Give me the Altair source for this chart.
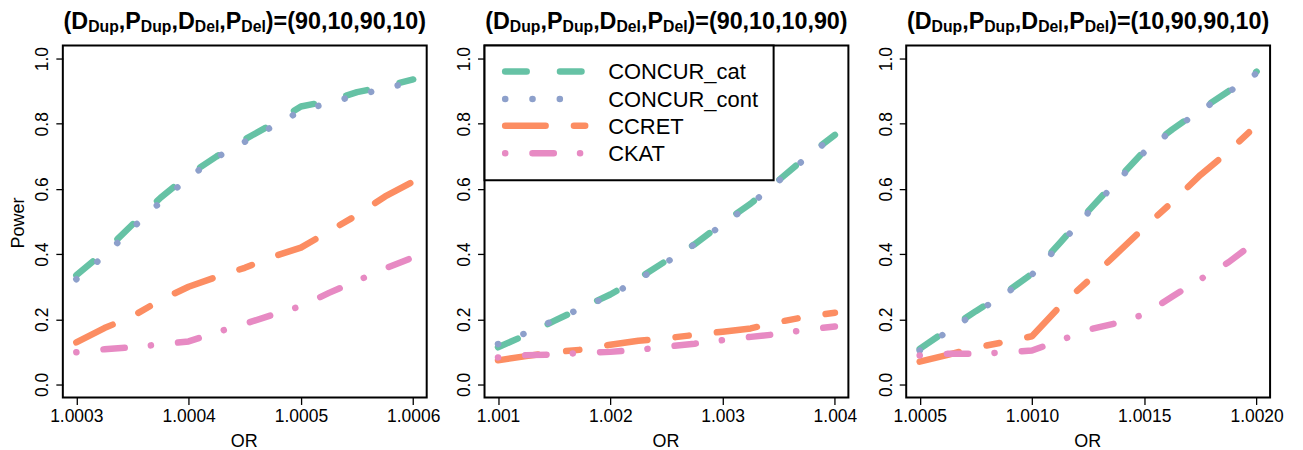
import altair as alt
import pandas as pd

# ---------------- data ----------------
SERIES = ["CONCUR_cat", "CONCUR_cont", "CCRET", "CKAT"]
COLORS = ["#66C2A5", "#8DA0CB", "#FC8D62", "#E78AC3"]
DASHES = [[21.6, 33.4], [0.1, 27.3], [40.6, 28.4, 13.3, 28.4], [0.1, 27.3, 21.4, 26.3]]

P1_OR = [1.0003, 1.000325, 1.00035, 1.000375, 1.0004, 1.000425, 1.00045,
         1.000475, 1.0005, 1.000525, 1.00055, 1.000575, 1.0006]
P1_CAT = [0.335, 0.407, 0.491, 0.573, 0.643, 0.700, 0.752, 0.800, 0.853, 0.870, 0.897, 0.915, 0.936]
P1_CONT = [0.323, 0.395, 0.480, 0.560, 0.635, 0.697, 0.745, 0.792, 0.840, 0.864, 0.888, 0.908, 0.930]
P1_CCRET = [0.129, 0.173, 0.209, 0.259, 0.300, 0.330, 0.358, 0.392, 0.420, 0.470, 0.520, 0.577, 0.623]
P1_CKAT = [0.099, 0.108, 0.114, 0.123, 0.132, 0.160, 0.186, 0.214, 0.240, 0.281, 0.318, 0.356, 0.390]

P2_OR = [1.001, 1.00125, 1.0015, 1.00175, 1.002, 1.00225, 1.0025,
         1.00275, 1.003, 1.00325, 1.0035, 1.00375, 1.004]
P2_CAT = [0.114, 0.152, 0.195, 0.236, 0.276, 0.325, 0.380, 0.430, 0.495, 0.555, 0.627, 0.700, 0.766]
P2_CONT = [0.124, 0.158, 0.197, 0.235, 0.273, 0.322, 0.375, 0.430, 0.490, 0.553, 0.625, 0.697, 0.765]
P2_CCRET = [0.074, 0.087, 0.099, 0.107, 0.122, 0.134, 0.142, 0.152, 0.162, 0.172, 0.192, 0.208, 0.220]
P2_CKAT = [0.083, 0.090, 0.092, 0.097, 0.100, 0.106, 0.116, 0.125, 0.136, 0.146, 0.155, 0.168, 0.178]

P3_OR = [1.0005, 1.000625, 1.00075, 1.000875, 1.001, 1.001125, 1.00125,
         1.001375, 1.0015, 1.001625, 1.00175, 1.001875, 1.002]
P3_CAT = [0.109, 0.168, 0.225, 0.278, 0.340, 0.435, 0.532, 0.625, 0.717, 0.783, 0.843, 0.900, 0.960]
P3_CONT = [0.104, 0.163, 0.220, 0.275, 0.337, 0.430, 0.527, 0.620, 0.713, 0.780, 0.840, 0.897, 0.955]
P3_CCRET = [0.070, 0.091, 0.113, 0.130, 0.148, 0.240, 0.318, 0.400, 0.482, 0.560, 0.643, 0.715, 0.796]
P3_CKAT = [0.089, 0.094, 0.094, 0.098, 0.104, 0.135, 0.168, 0.188, 0.215, 0.270, 0.323, 0.375, 0.440]

P1_TICKS = [1.0003, 1.0004, 1.0005, 1.0006]
P2_TICKS = [1.001, 1.002, 1.003, 1.004]
P3_TICKS = [1.0005, 1.0010, 1.0015, 1.0020]
Y_TICKS = [0.0, 0.2, 0.4, 0.6, 0.8, 1.0]

TITLE_VALUES = ["90,10,90,10", "90,10,10,90", "10,90,90,10"]

# ---------------- layout constants ----------------
W, H = 365, 353
FONT = "Liberation Sans"
LW = 6.5

# Arial/Liberation Sans Bold advance widths (per 1000 em) for title layout
BOLD_W = {"(": 333, ")": 333, ",": 278, "=": 584, "D": 722, "P": 667,
          "u": 611, "p": 611, "e": 556, "l": 278}
for d in "0123456789":
    BOLD_W[d] = 556


def text_width(s, size):
    return sum(BOLD_W[c] for c in s) * size / 1000.0


def title_layers(values):
    big, small = 23.4, 15.8
    segs = [("(D", 0), ("Dup", 1), (",P", 0), ("Dup", 1), (",D", 0), ("Del", 1),
            (",P", 0), ("Del", 1), (")=(" + values + ")", 0)]
    total = sum(text_width(s, small if sub else big) for s, sub in segs)
    x = W / 2.0 - total / 2.0
    out = []
    for s, sub in segs:
        size = small if sub else big
        out.append(
            alt.Chart().mark_text(text=s, font=FONT, fontWeight="bold", fontSize=size,
                                  align="left", baseline="alphabetic", color="black")
            .encode(x=alt.value(x), y=alt.value(-13.5 if sub else -16.5))
        )
        x += text_width(s, size)
    return out


def line_layers(xs, ys_list, x_domain):
    out = []
    for name, ys, col, dash in zip(SERIES, ys_list, COLORS, DASHES):
        df = pd.DataFrame({"OR": xs, "Power": ys})
        out.append(
            alt.Chart(df).mark_line(color=col, strokeWidth=LW, strokeDash=dash,
                                    strokeCap="round", strokeJoin="round")
            .encode(
                x=alt.X("OR:Q", scale=alt.Scale(domain=x_domain, nice=False, zero=False)),
                y=alt.Y("Power:Q", scale=alt.Scale(domain=[-0.04, 1.04], nice=False, zero=False)),
            )
        )
    return out


def axis_layer(xs, x_domain, ticks, fmt, ytitle):
    df = pd.DataFrame({"OR": xs, "Power": [None] * len(xs)})
    xaxis = alt.Axis(values=ticks, format=fmt, title="OR", grid=False, domain=False,
                     tickColor="black", tickSize=7, tickWidth=1.3,
                     labelFontSize=17.5, labelColor="black", labelFont=FONT, labelPadding=3,
                     labelFlush=False, labelOverlap=False,
                     titleFontSize=18, titleFontWeight="normal", titleColor="black", titleFont=FONT,
                     titleX=W / 2.0 - 1, titleY=44, titleBaseline="middle", titleAlign="center")
    yaxis_kw = dict(values=Y_TICKS, format=".1f", grid=False, domain=False,
                    tickColor="black", tickSize=7, tickWidth=1.3,
                    labelFontSize=17.5, labelColor="black", labelFont=FONT, labelPadding=4,
                    labelAngle=270, labelAlign="center", labelBaseline="bottom",
                    labelFlush=False, labelOverlap=False)
    if ytitle:
        yaxis = alt.Axis(title=ytitle, titleFontSize=18, titleFontWeight="normal", titleColor="black",
                         titleFont=FONT, titleAngle=270, titleX=-44, titleY=H / 2.0 + 1,
                         titleBaseline="middle", titleAlign="center", **yaxis_kw)
    else:
        yaxis = alt.Axis(title=None, **yaxis_kw)
    return alt.Chart(df).mark_point(opacity=0).encode(
        x=alt.X("OR:Q", scale=alt.Scale(domain=x_domain, nice=False, zero=False), axis=xaxis),
        y=alt.Y("Power:Q", scale=alt.Scale(domain=[-0.04, 1.04], nice=False, zero=False), axis=yaxis),
    )


def legend_layers():
    out = [alt.Chart().mark_rect(fill="white", stroke="black", strokeWidth=2)
           .encode(x=alt.value(0), x2=alt.value(290), y=alt.value(0), y2=alt.value(135))]
    rows = [26, 53.5, 80.5, 108]
    for name, col, dash, ry in zip(SERIES, COLORS, DASHES, rows):
        out.append(
            alt.Chart().mark_rule(color=col, strokeWidth=LW, strokeDash=dash, strokeCap="round")
            .encode(x=alt.value(20.7), x2=alt.value(101), y=alt.value(ry))
        )
        out.append(
            alt.Chart().mark_text(text=name, font=FONT, fontSize=22, align="left",
                                  baseline="middle", color="black")
            .encode(x=alt.value(124), y=alt.value(ry + 1))
        )
    return out


def panel(xs, ys_list, ticks, fmt, title_vals, ytitle=None, legend=False):
    span = ticks[-1] - ticks[0]
    x_domain = [ticks[0] - 0.04 * span, ticks[-1] + 0.04 * span]
    layers = [axis_layer(xs, x_domain, ticks, fmt, ytitle)]
    layers += line_layers(xs, ys_list, x_domain)
    if legend:
        layers += legend_layers()
    layers += title_layers(title_vals)
    return alt.layer(*layers).properties(width=W, height=H)


p1 = panel(P1_OR, [P1_CAT, P1_CONT, P1_CCRET, P1_CKAT], P1_TICKS, ".4f", TITLE_VALUES[0], ytitle="Power")
p2 = panel(P2_OR, [P2_CAT, P2_CONT, P2_CCRET, P2_CKAT], P2_TICKS, ".3f", TITLE_VALUES[1], legend=True)
p3 = panel(P3_OR, [P3_CAT, P3_CONT, P3_CCRET, P3_CKAT], P3_TICKS, ".4f", TITLE_VALUES[2])

chart = (
    alt.hconcat(p1, p2, p3, spacing=58, bounds="flush")
    .properties(padding={"left": 1, "top": 0, "right": 10, "bottom": 5}, background="white")
    .configure_view(stroke="black", strokeWidth=2)
)

chart.save("out.html", embed_options={"renderer": "svg", "actions": False})
